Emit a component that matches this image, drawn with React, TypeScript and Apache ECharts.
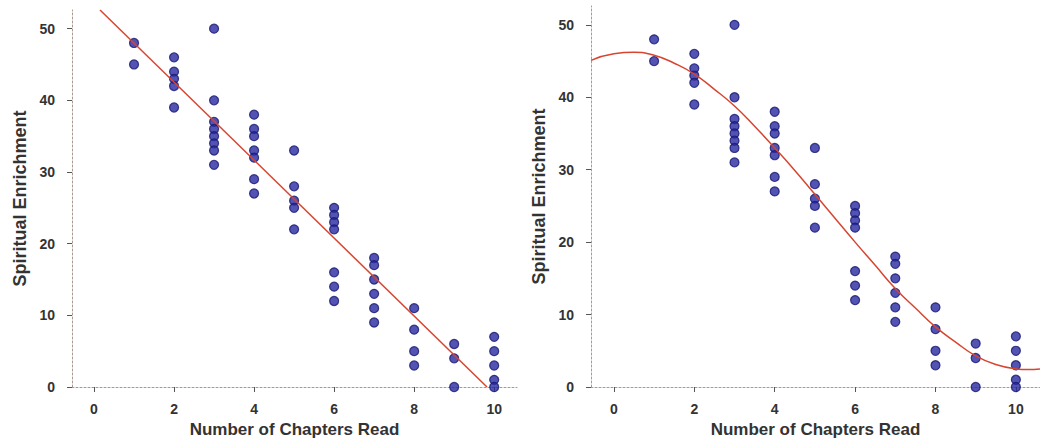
import React, { useEffect, useRef } from "react";
import * as echarts from "echarts";

const chapters = [
  1, 1,
  2, 2, 2, 2, 2,
  3, 3, 3, 3, 3, 3, 3, 3,
  4, 4, 4, 4, 4, 4, 4,
  5, 5, 5, 5, 5,
  6, 6, 6, 6, 6, 6, 6,
  7, 7, 7, 7, 7, 7,
  8, 8, 8, 8,
  9, 9, 9,
  10, 10, 10, 10, 10,
];
const enrichment = [
  48, 45,
  46, 44, 43, 42, 39,
  50, 40, 37, 36, 35, 34, 33, 31,
  38, 36, 35, 33, 32, 29, 27,
  33, 28, 26, 25, 22,
  25, 24, 23, 22, 16, 14, 12,
  18, 17, 15, 13, 11, 9,
  11, 8, 5, 3,
  6, 4, 0,
  7, 5, 3, 1, 0,
];

// Straight fitted line (left panel), endpoints
const lineX = [0.15, 9.82];
const lineY = [52.6, 0];

// Curved fitted line (right panel)
const curveX = [-0.57, 0, 0.5, 1, 1.5, 2, 2.5, 3, 3.5, 4, 4.5, 5, 5.5, 6, 6.5, 7, 7.5, 8, 8.5, 9, 9.5, 10, 10.3, 10.6];
const curveY = [45.1, 46, 46.2, 45.8, 44.7, 43.2, 41.1, 38.8, 36.0, 33.0, 29.9, 26.6, 23.3, 20.0, 16.8, 13.6, 10.9, 8.3, 6.2, 4.3, 3.1, 2.5, 2.4, 2.5];

const xTicks = [0, 2, 4, 6, 8, 10];
const yTicks = [0, 10, 20, 30, 40, 50];

const X_TITLE = "Number of Chapters Read";
const Y_TITLE = "Spiritual Enrichment";

export default function App() {
  const ref = useRef<HTMLDivElement>(null);
  useEffect(() => {
    if (!ref.current) return;
    const chart = echarts.init(ref.current, null, { renderer: "svg" });
    const points = chapters.map((c, i) => [c, enrichment[i]]);
    const linePts = lineX.map((x, i) => [x, lineY[i]]);
    const curvePts = curveX.map((x, i) => [x, curveY[i]]);
    const font = "Liberation Sans, Arial, sans-serif";
    const axisLineStyle = { color: "#a89890", type: [2, 2] as any, width: 1 };
    const mkX = (gi: number) => ({
      type: "value",
      gridIndex: gi,
      min: gi === 0 ? -0.55 : -0.57,
      max: gi === 0 ? 10.57 : 10.6,
      splitLine: { show: false },
      axisLine: { show: true, onZero: false, lineStyle: axisLineStyle },
      axisTick: { show: true, length: 5, lineStyle: { color: "#555" }, customValues: xTicks },
      axisLabel: {
        customValues: xTicks,
        color: "#333",
        fontWeight: "bold",
        fontSize: 14,
        fontFamily: font,
        margin: 15,
      },
      name: X_TITLE,
      nameLocation: "middle",
      nameGap: 34,
      nameTextStyle: { color: "#333", fontWeight: "bold", fontSize: 17, fontFamily: font },
    });
    const mkY = (gi: number) => ({
      type: "value",
      gridIndex: gi,
      min: 0,
      max: 52.6,
      splitLine: { show: false },
      axisLine: { show: true, onZero: false, lineStyle: axisLineStyle },
      axisTick: { show: true, length: 5, lineStyle: { color: "#555" }, customValues: yTicks },
      axisLabel: {
        customValues: yTicks,
        color: "#333",
        fontWeight: "bold",
        fontSize: 14,
        fontFamily: font,
        margin: 17,
      },
      name: Y_TITLE,
      nameLocation: "middle",
      nameGap: 43,
      nameTextStyle: { color: "#333", fontWeight: "bold", fontSize: 18, fontFamily: font },
    });
    const scatterStyle = {
      color: "#2828a0",
      borderColor: "#161670",
      borderWidth: 1.2,
    };
    chart.setOption({
      animation: false,
      backgroundColor: "#ffffff",
      grid: [
        { left: 72, top: 10, width: 445, height: 379 },
        { left: 591, top: 6, width: 449, height: 383 },
      ],
      xAxis: [mkX(0), mkX(1)],
      yAxis: [mkY(0), mkY(1)],
      series: [
        {
          type: "line",
          xAxisIndex: 0,
          yAxisIndex: 0,
          data: linePts,
          showSymbol: false,
          lineStyle: { color: "#d8452f", width: 1.5 },
          z: 3,
        },
        {
          type: "scatter",
          xAxisIndex: 0,
          yAxisIndex: 0,
          data: points,
          symbolSize: 9,
          itemStyle: scatterStyle,
          z: 2,
        },
        {
          type: "line",
          xAxisIndex: 1,
          yAxisIndex: 1,
          data: curvePts,
          smooth: true,
          showSymbol: false,
          lineStyle: { color: "#d8452f", width: 1.5 },
          z: 3,
        },
        {
          type: "scatter",
          xAxisIndex: 1,
          yAxisIndex: 1,
          data: points,
          symbolSize: 9,
          itemStyle: scatterStyle,
          z: 2,
        },
      ],
    });
    return () => chart.dispose();
  }, []);
  return (
    <div
      ref={ref}
      style={{ position: "fixed", left: 0, top: 0, width: 1040, height: 443, background: "#fff" }}
    />
  );
}
